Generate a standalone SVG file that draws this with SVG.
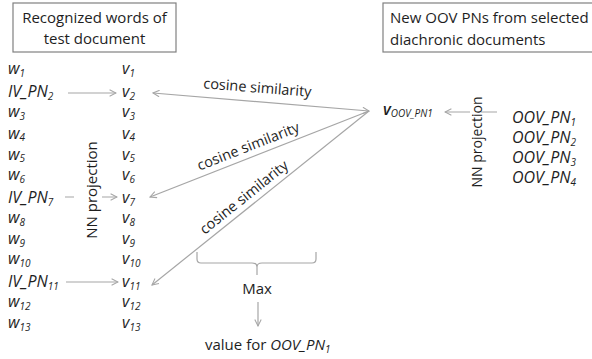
<svg xmlns="http://www.w3.org/2000/svg" width="592" height="359" viewBox="0 0 592 359">
<style>
text{font-family:"Open Sans","Noto Sans","Liberation Sans",sans-serif;fill:#1e1e1e}
.it{font-style:italic;font-size:16px}
.sub{font-size:10px}
.lbl{font-size:15px}
.box{fill:#fff;stroke:#808080;stroke-width:1.2}
.ln{stroke:#a6a6a6;stroke-width:1.2;fill:none}
</style>
<defs>
<marker id="ah" viewBox="0 0 10 10" refX="9" refY="5" markerWidth="8" markerHeight="8" markerUnits="userSpaceOnUse" orient="auto-start-reverse">
<path d="M1,1 L9,5 L1,9" fill="none" stroke="#a6a6a6" stroke-width="1.3"/>
</marker>
</defs>
<rect width="592" height="359" fill="#fff"/>

<g id="box-left">
<rect class="box" x="13" y="3" width="163" height="49"/>
<text class="lbl" x="94.5" y="23" text-anchor="middle">Recognized words of</text>
<text class="lbl" x="94.5" y="44" text-anchor="middle">test document</text>
</g>
<g id="box-right">
<rect class="box" x="383" y="3" width="214" height="49"/>
<text class="lbl" x="390" y="23">New OOV PNs from selected</text>
<text class="lbl" x="390" y="45">diachronic documents</text>
</g>

<g id="connectors">
<line class="ln" x1="68" y1="93" x2="116" y2="93" marker-end="url(#ah)"/>
<line class="ln" x1="65" y1="197" x2="117" y2="197" marker-end="url(#ah)"/>
<line class="ln" x1="66" y1="282" x2="118" y2="282" marker-end="url(#ah)"/>
<line class="ln" x1="153" y1="93" x2="369" y2="111" marker-start="url(#ah)" marker-end="url(#ah)"/>
<line class="ln" x1="369" y1="111" x2="150" y2="197" marker-end="url(#ah)"/>
<line class="ln" x1="369" y1="111" x2="152" y2="285" marker-end="url(#ah)"/>
<line class="ln" x1="497" y1="112" x2="445" y2="112" marker-end="url(#ah)"/>
<path class="ln" d="M197,252 V259 Q197,263 201,263 H252 Q257,263 257,267 V275 M257,267 Q257,263 262,263 H312 Q316,263 316,259 V252"/>
<line class="ln" x1="258" y1="302" x2="258" y2="326" marker-end="url(#ah)"/>
</g>

<g id="words">
<text class="it" x="8" y="74">w<tspan class="sub" dy="2.5">1</tspan></text>
<text class="it" x="8" y="97">IV_PN<tspan class="sub" dy="2.5">2</tspan></text>
<text class="it" x="8" y="117">w<tspan class="sub" dy="2.5">3</tspan></text>
<text class="it" x="8" y="138.5">w<tspan class="sub" dy="2.5">4</tspan></text>
<text class="it" x="8" y="159.5">w<tspan class="sub" dy="2.5">5</tspan></text>
<text class="it" x="8" y="180">w<tspan class="sub" dy="2.5">6</tspan></text>
<text class="it" x="8" y="203">IV_PN<tspan class="sub" dy="2.5">7</tspan></text>
<text class="it" x="8" y="223">w<tspan class="sub" dy="2.5">8</tspan></text>
<text class="it" x="8" y="244">w<tspan class="sub" dy="2.5">9</tspan></text>
<text class="it" x="8" y="264">w<tspan class="sub" dy="2.5">10</tspan></text>
<text class="it" x="8" y="287">IV_PN<tspan class="sub" dy="2.5">11</tspan></text>
<text class="it" x="8" y="307">w<tspan class="sub" dy="2.5">12</tspan></text>
<text class="it" x="8" y="328">w<tspan class="sub" dy="2.5">13</tspan></text>
</g>

<g id="vectors">
<text class="it" x="122" y="74">v<tspan class="sub" dy="2.5">1</tspan></text>
<text class="it" x="122" y="97">v<tspan class="sub" dy="2.5">2</tspan></text>
<text class="it" x="122" y="117">v<tspan class="sub" dy="2.5">3</tspan></text>
<text class="it" x="122" y="138.5">v<tspan class="sub" dy="2.5">4</tspan></text>
<text class="it" x="122" y="159.5">v<tspan class="sub" dy="2.5">5</tspan></text>
<text class="it" x="122" y="180">v<tspan class="sub" dy="2.5">6</tspan></text>
<text class="it" x="122" y="203">v<tspan class="sub" dy="2.5">7</tspan></text>
<text class="it" x="122" y="223">v<tspan class="sub" dy="2.5">8</tspan></text>
<text class="it" x="122" y="244">v<tspan class="sub" dy="2.5">9</tspan></text>
<text class="it" x="122" y="264">v<tspan class="sub" dy="2.5">10</tspan></text>
<text class="it" x="122" y="287">v<tspan class="sub" dy="2.5">11</tspan></text>
<text class="it" x="122" y="307">v<tspan class="sub" dy="2.5">12</tspan></text>
<text class="it" x="122" y="328">v<tspan class="sub" dy="2.5">13</tspan></text>
</g>

<g id="nn-left">
<rect x="74" y="140" width="28" height="100" fill="#fff"/>
<text class="lbl" transform="translate(97,190) rotate(-90)" text-anchor="middle">NN projection</text>
</g>

<g id="nn-right">
<rect x="470" y="95" width="11" height="95" fill="#fff"/>
<text style="font-size:14px" transform="translate(481.5,142) rotate(-90)" text-anchor="middle">NN projection</text>
</g>

<g id="v-oov">
<text class="it" x="383" y="115" font-weight="600">v<tspan style="font-size:10px;font-weight:400" dy="2">OOV_PN1</tspan></text>
</g>

<g id="oov-list">
<text class="it" x="512" y="123">OOV_PN<tspan class="sub" dy="2.5">1</tspan></text>
<text class="it" x="512" y="143">OOV_PN<tspan class="sub" dy="2.5">2</tspan></text>
<text class="it" x="512" y="163">OOV_PN<tspan class="sub" dy="2.5">3</tspan></text>
<text class="it" x="512" y="183">OOV_PN<tspan class="sub" dy="2.5">4</tspan></text>
</g>

<g id="cos-labels">
<text style="font-size:14.5px" transform="translate(257,92.5) rotate(4.6)" text-anchor="middle">cosine similarity</text>
<text style="font-size:14.5px" transform="translate(250,151) rotate(-21.4)" text-anchor="middle">cosine similarity</text>
<text style="font-size:14.5px" transform="translate(247,201) rotate(-38.7)" text-anchor="middle">cosine similarity</text>
</g>

<g id="max">
<text class="lbl" x="257" y="294" text-anchor="middle">Max</text>
</g>
<g id="value">
<text class="lbl" x="205" y="350">value for <tspan font-style="italic">OOV_PN</tspan><tspan class="sub" font-style="italic" dy="2.5">1</tspan></text>
</g>
</svg>
